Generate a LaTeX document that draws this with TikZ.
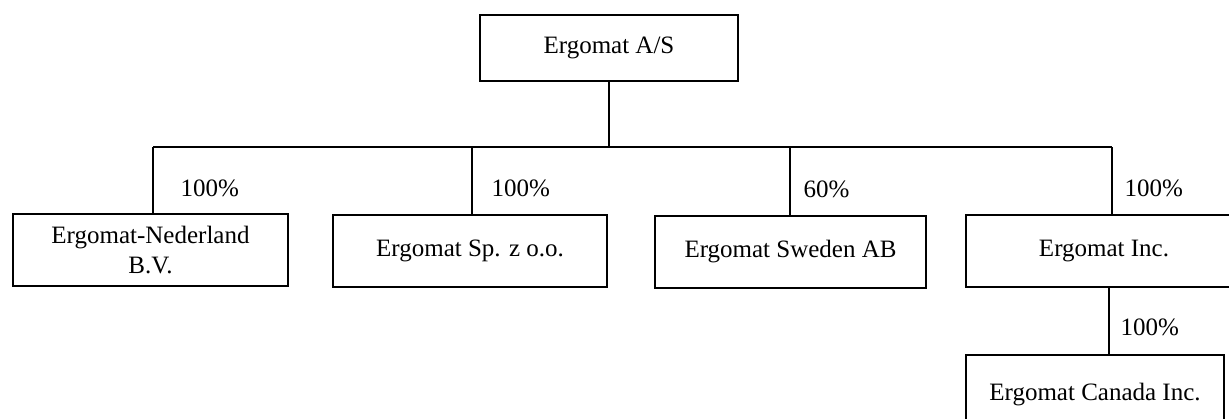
\documentclass[tikz,border=0pt]{standalone}
\usepackage{fontspec}
\setmainfont{Liberation Serif}
\usetikzlibrary{positioning,calc}
\tikzset{
  %Define style for boxes
  boks/.style={
    rectangle,
    draw=black, line width=0.65pt,
    minimum height=36pt,
    inner sep=0pt,
    align=center,
    font=\fontsize{12.5}{15}\selectfont},
  % Define line style
  linje/.style={
    -,
    line width=0.65pt},
  % Define style for share labels
  andel/.style={
    anchor=west,
    inner sep=0pt,
    font=\fontsize{12.5}{15}\selectfont}
}

\begin{document}
\begin{tikzpicture}[x=0.5pt,y=-0.5pt]
    \useasboundingbox (0,0) rectangle (1229,418);
    \node[boks, minimum width=129pt, minimum height=33pt] (moder) at (609,48) {Ergomat A/S};
    \node[boks, minimum width=137.5pt] (ned) at (150.5,250) {Ergomat-Nederland\\B.V.};
    \node[boks, minimum width=137pt] (pol) at (470,251) {Ergomat Sp. z o.o.};
    \node[boks, minimum width=135.5pt] (swe) at (790.5,252) {Ergomat Sweden AB};
    \node[boks, minimum width=138pt] (inc) at (1104,251) {Ergomat Inc.};
    \node[boks, minimum width=129pt, minimum height=40pt] (can) at (1095,395) {Ergomat Canada Inc.};
    % bus
    \coordinate (bus) at (609,147);
    \coordinate (d1) at (153,147);
    \coordinate (d2) at (472,147);
    \coordinate (d3) at (790,147);
    \coordinate (d4) at (1112,147);
    \coordinate (d5) at (1109,287);
    \draw[linje] (moder.south) -- (bus);
    \draw[linje] (d1) -- (d4);
    \draw[linje] (d1) -- node[andel, pos=0.62, xshift=13.5pt] {100\%} (d1 |- ned.north);
    \draw[linje] (d2) -- node[andel, pos=0.62, xshift=9.5pt] {100\%} (d2 |- pol.north);
    \draw[linje] (d3) -- node[andel, pos=0.62, xshift=6.5pt] {60\%} (d3 |- swe.north);
    \draw[linje] (d4) -- node[andel, pos=0.62, xshift=6pt] {100\%} (d4 |- inc.north);
    \draw[linje] (d5) -- node[andel, pos=0.6, xshift=5.5pt] {100\%} (d5 |- can.north);
  \end{tikzpicture}
\end{document}
